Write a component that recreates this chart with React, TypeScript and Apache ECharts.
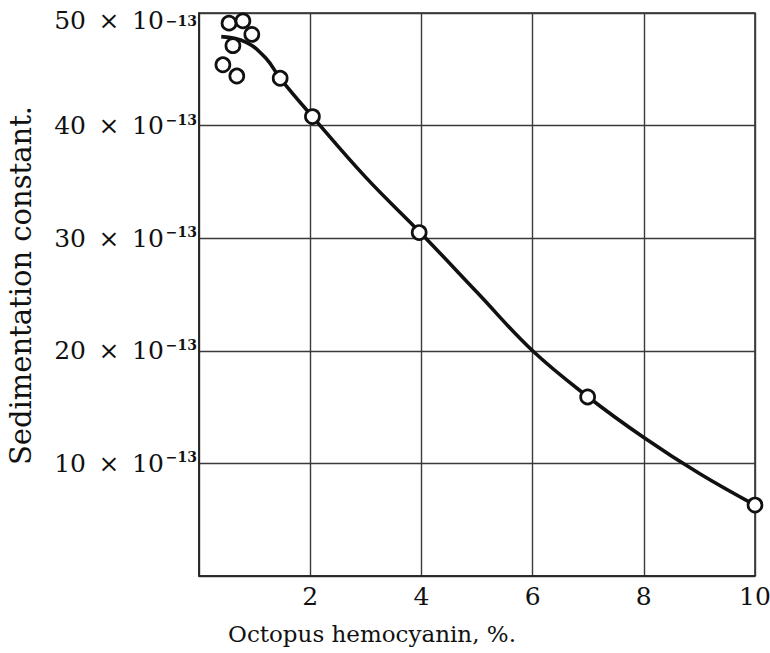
import React, { useEffect, useRef } from "react";
import * as echarts from "echarts";

// Measured points: [hemocyanin %, sedimentation constant (×10^-13)]
const pointX = [0.54, 0.79, 0.95, 0.61, 0.43, 0.68, 1.46, 2.04, 3.96, 6.99, 10.0];
const pointY = [49.1, 49.3, 48.1, 47.1, 45.4, 44.4, 44.2, 40.8, 30.5, 15.9, 6.3];

// Fitted curve drawn through the data
const curveX = [0.4, 0.85, 1.2, 1.46, 2.04, 3, 4, 5, 6, 7, 8, 9, 10];
const curveY = [47.9, 47.4, 46.0, 44.2, 40.8, 35.4, 30.4, 25.2, 20.0, 15.9, 12.3, 9.1, 6.3];

const xTicks = [2, 4, 6, 8, 10];
const yTicks = [10, 20, 30, 40, 50];

const FONT = "DejaVu Serif";
const SP = "\u2002";

export default function App() {
  const ref = useRef<HTMLDivElement>(null);
  useEffect(() => {
    if (!ref.current) return;
    const chart = echarts.init(ref.current, undefined, { renderer: "svg" });
    const points = pointX.map((x, i) => [x, pointY[i]]);
    const curve = curveX.map((x, i) => [x, curveY[i]]);
    const sup = (top: number) => ({
      fontFamily: FONT,
      fontSize: 14,
      fontWeight: "bold",
      color: "#111",
      verticalAlign: "top",
      padding: [top, 0, 0, 2],
    });
    chart.setOption({
      animation: false,
      backgroundColor: "#fff",
      grid: {
        left: 199,
        right: 15,
        top: 13,
        bottom: 77,
        show: true,
        borderColor: "#222",
        borderWidth: 1.5,
        outerBoundsMode: "none",
        containLabel: false,
      },
      xAxis: {
        type: "value",
        min: 0,
        max: 10,
        interval: 2,
        name: "Octopus hemocyanin, %.",
        nameLocation: "middle",
        nameGap: 46,
        nameTextStyle: {
          fontFamily: FONT,
          fontSize: 23,
          color: "#111",
          padding: [0, 210, 0, 0],
        },
        axisLine: { show: true, lineStyle: { color: "#222", width: 1.5 } },
        axisTick: { show: false },
        splitLine: { show: true, lineStyle: { color: "#3a3a3a", width: 1.4 } },
        axisLabel: {
          margin: 8,
          fontFamily: FONT,
          fontSize: 25,
          color: "#111",
          formatter: (v: number) => (xTicks.includes(v) ? String(v) : ""),
        },
      },
      yAxis: {
        type: "value",
        min: 0,
        max: 50,
        interval: 10,
        name: "Sedimentation constant.",
        nameLocation: "middle",
        nameRotate: 90,
        nameGap: 164,
        nameTextStyle: { fontFamily: FONT, fontSize: 29, color: "#111", padding: [0, 0, 0, 18] },
        axisLine: { show: true, lineStyle: { color: "#222", width: 1.5 } },
        axisTick: { show: false },
        splitLine: { show: true, lineStyle: { color: "#3a3a3a", width: 1.4 } },
        axisLabel: {
          margin: 2,
          formatter: (v: number) => {
            if (!yTicks.includes(v)) return "";
            if (v === 50) return `{a5|${v}${SP}×${SP}10}{b5|−13}`;
            return `{a|${v}${SP}×${SP}10}{b|−13}`;
          },
          rich: {
            a: { fontFamily: FONT, fontSize: 25, color: "#111", lineHeight: 28 },
            a5: {
              fontFamily: FONT,
              fontSize: 25,
              color: "#111",
              lineHeight: 28,
              padding: [14, 0, 0, 0],
            },
            b: sup(1),
            b5: sup(15),
          },
        },
      },
      series: [
        {
          type: "line",
          data: curve,
          smooth: 0.4,
          showSymbol: false,
          lineStyle: { color: "#111", width: 3.6 },
          z: 2,
        },
        {
          type: "scatter",
          data: points,
          symbol: "circle",
          symbolSize: 14,
          itemStyle: { color: "#fff", borderColor: "#111", borderWidth: 2.7, opacity: 1 },
          z: 3,
        },
      ],
    });
    return () => chart.dispose();
  }, []);
  return (
    <div
      ref={ref}
      style={{ position: "fixed", left: 0, top: 0, width: 770, height: 653 }}
    />
  );
}
